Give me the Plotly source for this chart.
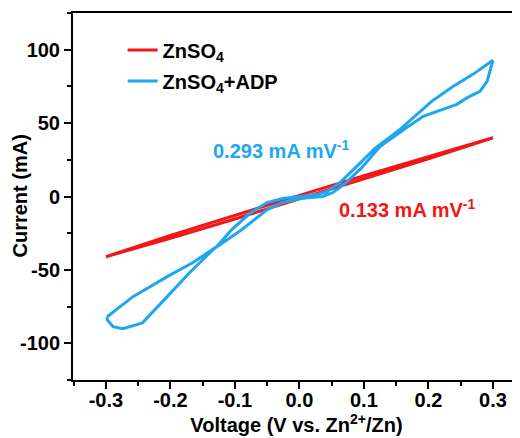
import plotly.graph_objects as go

# ZnSO4 (red) loop: forward then backward scan
red_v = [-0.30, -0.20, -0.10, 0.00, 0.10, 0.20, 0.30,
         0.20, 0.10, 0.00, -0.10, -0.20, -0.30]
red_i = [-41.0, -28.5, -15.3, -1.8, 11.8, 25.7, 40.0,
         27.3, 14.2, 0.8, -12.7, -26.5, -41.0]

# ZnSO4+ADP (blue) loop
blue_v = [-0.298, -0.258, -0.205, -0.165, -0.128, -0.105, -0.077, -0.050, -0.026, 0.001,
          0.027, 0.043, 0.063, 0.089, 0.117, 0.156, 0.182, 0.205, 0.238, 0.269, 0.300,
          0.291, 0.280, 0.261, 0.244, 0.218, 0.192, 0.167, 0.125, 0.097, 0.071, 0.052,
          0.036, 0.001, -0.026, -0.050, -0.089, -0.134, -0.170, -0.205, -0.243, -0.252,
          -0.274, -0.289, -0.298, -0.298]
blue_i = [-81.9, -68.2, -54.6, -45.0, -34.1, -22.5, -11.6, -4.1, -1.4, 0.0,
          1.4, 3.4, 9.5, 20.5, 32.7, 45.7, 55.9, 64.8, 75.0, 83.2, 92.8,
          78.4, 71.6, 67.5, 62.8, 58.7, 54.6, 47.1, 34.1, 19.8, 8.9, 2.7,
          0.0, -1.4, -4.1, -8.9, -22.5, -36.2, -51.8, -68.2, -85.9, -87.3,
          -90.0, -88.7, -83.9, -81.9]

x_ticks = [-0.3, -0.2, -0.1, 0.0, 0.1, 0.2, 0.3]
x_labels = ["-0.3", "-0.2", "-0.1", "0.0", "0.1", "0.2", "0.3"]
y_ticks = [-100, -50, 0, 50, 100]
y_labels = ["-100", "-50", "0", "50", "100"]

RED = "#f21616"
BLUE = "#1fa6f0"
FONT = "Liberation Sans"
FS = 20

fig = go.Figure()
fig.add_trace(go.Scatter(x=red_v, y=red_i, mode="lines", name="<b>ZnSO<sub>4</sub></b>",
                         legendgroup="a", line=dict(color=RED, width=3)))
fig.add_trace(go.Scatter(x=blue_v, y=blue_i, mode="lines", name="<b>ZnSO<sub>4</sub>+ADP</b>",
                         legendgroup="b", line=dict(color=BLUE, width=3)))

fig.add_annotation(x=-0.028, y=32, text="<b>0.293 mA mV<sup>-1</sup></b>", showarrow=False,
                   font=dict(family=FONT, size=FS, color=BLUE))
fig.add_annotation(x=0.167, y=-8, text="<b>0.133 mA mV<sup>-1</sup></b>", showarrow=False,
                   font=dict(family=FONT, size=FS, color=RED))
fig.add_annotation(xref="paper", yref="paper", x=0, y=0.5, xshift=-54, textangle=-90,
                   xanchor="center", yanchor="middle",
                   text="<b>Current (mA)</b>", showarrow=False,
                   font=dict(family=FONT, size=FS, color="black"))

axis_common = dict(showgrid=False, zeroline=False, showline=True, linecolor="black",
                   linewidth=2, ticks="outside", tickwidth=2, ticklen=7, tickcolor="black",
                   tickfont=dict(family=FONT, size=FS, color="black", weight="bold"))

fig.update_xaxes(range=[-0.351, 0.342], tickvals=x_ticks, ticktext=x_labels, mirror=True,
                 ticklabelstandoff=-6,
                 minor=dict(dtick=0.05, ticks="outside", ticklen=4, tickwidth=2, tickcolor="black"),
                 title=dict(text="<b>Voltage (V vs. Zn<sup>2+</sup>/Zn)</b>", standoff=5,
                            font=dict(family=FONT, size=FS, color="black")),
                 **axis_common)
fig.update_yaxes(range=[-125, 125], tickvals=y_ticks, ticktext=y_labels, mirror=False,
                 minor=dict(dtick=25, ticks="outside", ticklen=4, tickwidth=2, tickcolor="black"),
                 **axis_common)

# page body has an 8px margin, so the figure is sized to end at the window edge
fig.update_layout(width=512, height=430, margin=dict(l=65, r=0, t=5, b=58, autoexpand=False),
                  plot_bgcolor="white", paper_bgcolor="white",
                  legend=dict(x=0.111, y=0.952, xanchor="left", yanchor="top",
                              bgcolor="rgba(0,0,0,0)", traceorder="grouped", tracegroupgap=2,
                              font=dict(family=FONT, size=FS, color="black")),
                  showlegend=True)

fig.write_html("out.html")
